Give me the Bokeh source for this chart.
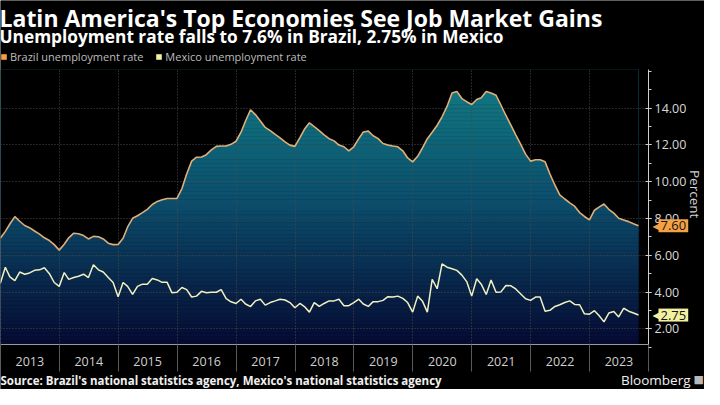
import math
import numpy as np
import pandas as pd
from datetime import datetime
from bokeh.plotting import figure
from bokeh.models import (Range1d, FixedTicker, NumeralTickFormatter, DatetimeTickFormatter,
                          Label, Legend, LegendItem)
from bokeh.embed import file_html
from bokeh.resources import INLINE

# ---------------- data ----------------
brazil = [6.93, 7.3, 7.7, 8.1, 7.85, 7.62, 7.5, 7.32, 7.15, 6.95, 6.8, 6.58,
          6.28, 6.6, 6.95, 7.2, 7.17, 7.07, 6.89, 7.03, 7.01, 6.89, 6.66, 6.58,
          6.59, 6.93, 7.54, 8.01, 8.15, 8.32, 8.5, 8.76, 8.93, 9.02, 9.09, 9.09,
          9.09, 9.63, 10.42, 11.12, 11.33, 11.34, 11.47, 11.73, 11.92, 11.94, 11.94, 12.03,
          12.2, 12.69, 13.3, 13.91, 13.65, 13.3, 12.95, 12.78, 12.57, 12.38, 12.17, 11.99,
          11.92, 12.4, 12.85, 13.2, 12.99, 12.78, 12.55, 12.34, 12.22, 11.99, 11.9, 11.68,
          11.9, 12.34, 12.7, 12.75, 12.5, 12.34, 12.08, 11.99, 11.94, 11.9, 11.68, 11.29,
          11.08, 11.38, 11.82, 12.34, 12.69, 13.07, 13.53, 14.09, 14.82, 14.91, 14.52, 14.35,
          14.2, 14.47, 14.57, 14.91, 14.82, 14.7, 14.17, 13.6, 13.07, 12.55, 12.03, 11.5,
          11.12, 11.19, 11.19, 11.08, 10.42, 9.81, 9.28, 9.06, 8.85, 8.67, 8.32, 8.11,
          7.92, 8.45, 8.62, 8.79, 8.5, 8.29, 8.01, 7.92, 7.83, 7.71, 7.6]

mexico = [4.48, 5.35, 4.83, 4.62, 5.09, 4.97, 5.04, 5.18, 5.21, 5.32, 5.0, 4.52,
          4.31, 5.06, 4.69, 4.79, 4.86, 4.97, 4.79, 5.49, 5.21, 5.09, 4.79, 4.52,
          3.75, 4.52, 4.31, 3.87, 4.31, 4.43, 4.43, 4.74, 4.66, 4.53, 4.53, 3.96,
          3.99, 4.25, 4.13, 3.73, 3.78, 4.04, 3.96, 3.99, 3.99, 4.13, 3.64, 3.47,
          3.38, 3.61, 3.35, 3.21, 3.52, 3.61, 3.29, 3.43, 3.52, 3.61, 3.57, 3.43,
          3.15, 3.38, 3.21, 2.91, 3.43, 3.22, 3.38, 3.52, 3.52, 3.61, 3.26, 3.26,
          3.43, 3.61, 3.35, 3.22, 3.48, 3.48, 3.55, 3.75, 3.73, 3.78, 3.66, 3.43,
          2.91, 3.78, 3.52, 2.91, 4.69, 4.18, 5.53, 5.35, 5.27, 5.18, 4.92, 4.57,
          3.78, 4.72, 4.43, 3.87, 4.66, 3.99, 4.01, 4.36, 4.34, 4.17, 3.9, 3.64,
          3.55, 3.73, 3.73, 2.96, 3.01, 3.22, 3.31, 3.43, 3.52, 3.33, 3.31, 2.82,
          2.8, 2.99, 2.73, 2.38, 2.86, 2.94, 2.65, 3.12, 2.96, 2.86, 2.75]

first_month = "2013-01-01"      # month-end dates: Dec 2012 ... Oct 2023
years = list(range(2013, 2024))
y_ticks = [2, 4, 6, 8, 10, 12, 14]
y_minor = list(range(1, 17))

title = "Latin America's Top Economies See Job Market Gains"
subtitle = "Unemployment rate falls to 7.6% in Brazil, 2.75% in Mexico"
legend_names = ["Brazil unemployment rate", "Mexico unemployment rate"]
source = "Source: Brazil's national statistics agency, Mexico's national statistics agency"
y_label = "Percent"

# ---------------- derived ----------------
dates = pd.date_range(first_month, periods=len(brazil), freq="MS") - pd.Timedelta(days=1)


def ms(dt):
    return (pd.Timestamp(dt) - pd.Timestamp("1970-01-01")).total_seconds() * 1000.0


X0 = ms(datetime(years[0], 1, 1))
X1 = ms(datetime(years[-1] + 1, 1, 1))
year_starts = [ms(datetime(y, 1, 1)) for y in years + [years[-1] + 1]]
year_mids = [ms(datetime(y, 7, 2)) for y in years]

FONT = "Open Sans"
BRAZIL_LINE = "#deb078"
BRAZIL_KEY = "#f4a145"
MEXICO_LINE = "#f2f0c0"
MEXICO_KEY = "#f3f0a0"
GRID = "#4a4a4a"
AX = "#cfcfcf"

# ---------------- layout (canvas px) ----------------
W, H = 704, 389
PX_RIGHT = 648      # canvas x of the value axis (end of 2023)
PY_TOP = 69         # canvas y of the top of the plotting area
PY_BOT = 344        # canvas y of the bottom of the plotting area
Y0, Y1 = 1.15, 16.1

ppu_x = PX_RIGHT / (X1 - X0)
ppu_y = (PY_BOT - PY_TOP) / (Y1 - Y0)
XR = Range1d(X0, X0 + W / ppu_x)
YR = Range1d(Y0 - (H - PY_BOT) / ppu_y, Y1 + PY_TOP / ppu_y)

p = figure(width=W, height=H, x_axis_type="datetime", y_axis_location="right",
           x_range=XR, y_range=YR,
           output_backend="svg", toolbar_location=None,
           background_fill_color="black", border_fill_color="black",
           outline_line_color=None,
           min_border_left=0, min_border_top=0, min_border_bottom=0, min_border_right=0)

# ---- gradient fill under the Brazil line (bands, then black mask above the line) ----
stops = [(Y1, (18, 126, 133)), (9.0, (12, 78, 108)), (Y0, (6, 10, 50))]


def grad(v):
    for (va, ca), (vb, cb) in zip(stops[:-1], stops[1:]):
        if vb <= v <= va:
            t = (va - v) / (va - vb)
            c = [int(round(a + (b - a) * t)) for a, b in zip(ca, cb)]
            return "#%02x%02x%02x" % tuple(c)
    return "#%02x%02x%02x" % stops[-1][1]


edges = np.linspace(Y0, Y1, 71)
bots = edges[:-1]
tops = edges[1:]
cols = [grad((a + b) / 2) for a, b in zip(bots, tops)]
p.quad(left=[dates[0]] * len(bots), right=[dates[-1]] * len(bots), bottom=bots, top=tops,
       fill_color=cols, line_color=cols, line_width=0.5, level="image")
p.varea(x=dates, y1=brazil, y2=[Y1] * len(brazil), fill_color="black", level="image")

# ---- masks so the grid stays inside the plotting area ----
p.quad(left=[XR.start, XR.start, X1], right=[XR.end, XR.end, XR.end],
       bottom=[Y1, YR.start, Y0], top=[YR.end, Y0, Y1],
       fill_color="black", line_color=None)

# ---- lines ----
p.line(dates, brazil, line_color=BRAZIL_LINE, line_width=1.6)
p.line(dates, mexico, line_color=MEXICO_LINE, line_width=1.5)

# ---- grids ----
p.xgrid.ticker = FixedTicker(ticks=year_starts)
for g in (p.xgrid, p.ygrid):
    g.grid_line_color = GRID
    g.grid_line_dash = "1 2"
    g.grid_line_width = 1

# ---- x axis: year labels centred, separators at year boundaries ----
xa = p.xaxis[0]
xa.fixed_location = Y0
xa.bounds = (X0, X1)
xa.ticker = FixedTicker(ticks=year_mids, minor_ticks=year_starts)
xa.formatter = DatetimeTickFormatter(years="%Y", months="%Y", days="%Y", hours="%Y",
                                     minutes="%Y", seconds="%Y", milliseconds="%Y",
                                     microseconds="%Y", context=None)
xa.major_tick_line_color = None
xa.major_tick_out = 0
xa.major_tick_in = 0
xa.minor_tick_out = 27
xa.minor_tick_in = 0
xa.minor_tick_line_color = "#5a5a5a"
xa.axis_line_color = "#9a9a9a"
xa.major_label_standoff = -15
xa.major_label_text_font = FONT
xa.major_label_text_font_size = "12.5px"
xa.major_label_text_color = "#d0d0d0"

# ---- right y axis ----
ya = p.yaxis[0]
ya.fixed_location = X1
ya.bounds = (Y0, Y1)
ya.ticker = FixedTicker(ticks=y_ticks, minor_ticks=y_minor)
ya.formatter = NumeralTickFormatter(format="0.00")
ya.axis_line_color = AX
ya.major_tick_line_color = AX
ya.minor_tick_line_color = AX
ya.major_tick_in = 3
ya.major_tick_out = 3
ya.minor_tick_in = 0
ya.minor_tick_out = 3
ya.major_label_standoff = 3
ya.major_label_text_font = FONT
ya.major_label_text_font_size = "12.5px"
ya.major_label_text_color = "#d8d8d8"

# axis title, reading top to bottom
p.add_layout(Label(x=X1, y=(Y0 + Y1) / 2 + 0.7, x_offset=46, text=y_label, angle=-math.pi / 2,
                   text_font=FONT, text_font_size="13.5px", text_color="#d0d0d0",
                   text_align="center", text_baseline="middle"))

# ---- legend (square keys) ----
kb = p.quad(left=[np.nan], right=[np.nan], top=[np.nan], bottom=[np.nan],
            fill_color=BRAZIL_KEY, line_color=None)
km = p.quad(left=[np.nan], right=[np.nan], top=[np.nan], bottom=[np.nan],
            fill_color=MEXICO_KEY, line_color=None)
legend = Legend(items=[LegendItem(label=legend_names[0], renderers=[kb], index=0),
                       LegendItem(label=legend_names[1], renderers=[km], index=0)],
                orientation="horizontal", location=(0, H - 57 - 7),
                glyph_width=7, glyph_height=7, label_standoff=3, spacing=12,
                padding=0, margin=0, background_fill_alpha=0, border_line_alpha=0,
                label_text_font=FONT, label_text_font_size="11px",
                label_text_color="#bdbdbd", label_height=14)
p.add_layout(legend)

# ---- value tags on the axis ----
for val, bg in ((brazil[-1], BRAZIL_KEY), (mexico[-1], MEXICO_KEY)):
    p.add_layout(Label(x=X1, y=val, x_offset=4, text="\u25C0",
                       text_font="DejaVu Sans", text_font_size="12px", text_color=bg,
                       text_align="left", text_baseline="middle"))
    p.add_layout(Label(x=X1, y=val, x_offset=10, text=f"{val:.2f}",
                       text_font=FONT, text_font_size="13px", text_color="#141414",
                       text_align="left", text_baseline="middle",
                       background_fill_color=bg, padding=2))


# ---- titles and footer (screen units inside the canvas-wide frame) ----
def canvas_label(text, cx, cy, size, bold=False, color="white", align="left",
                 baseline="alphabetic", font=FONT):
    p.add_layout(Label(x=cx, y=H - cy, x_units="screen", y_units="screen", text=text,
                       text_font=font, text_font_size=size,
                       text_font_style="bold" if bold else "normal",
                       text_color=color, text_align=align, text_baseline=baseline))


canvas_label(title, -1, 17, "23px", bold=True)
canvas_label(subtitle, -1, 36, "17.3px", bold=True)
canvas_label(source, 0, 380, "11.5px", bold=True, color="#f0f0f0", baseline="middle")
canvas_label("Bloomberg", 690, 379, "13.5px", color="#f0f0f0", align="right", baseline="middle")
canvas_label("\u25A0", 693, 379, "11px", color="#b8b8b8", baseline="middle", font="DejaVu Sans")

open("out.html", "w").write(file_html(p, INLINE))
